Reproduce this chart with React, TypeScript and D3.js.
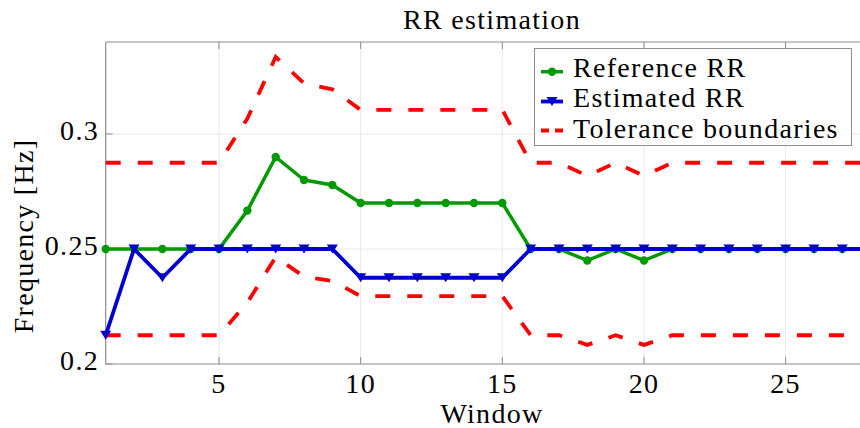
import React from "react";
import * as d3 from "d3";

const windows = [1,2,3,4,5,6,7,8,9,10,11,12,13,14,15,16,17,18,19,20,21,22,23,24,25,26,27,28];
const referenceRR = [0.25,0.25,0.25,0.25,0.25,0.2667,0.29,0.28,0.2778,0.27,0.27,0.27,0.27,0.27,0.27,0.25,0.25,0.245,0.25,0.245,0.25,0.25,0.25,0.25,0.25,0.25,0.25,0.25];
const estimatedRR = [0.2125,0.25,0.2375,0.25,0.25,0.25,0.25,0.25,0.25,0.2375,0.2375,0.2375,0.2375,0.2375,0.2375,0.25,0.25,0.25,0.25,0.25,0.25,0.25,0.25,0.25,0.25,0.25,0.25,0.25];
const upperTol = [0.2875,0.2875,0.2875,0.2875,0.2875,0.3067,0.3335,0.322,0.3194,0.3105,0.3105,0.3105,0.3105,0.3105,0.3105,0.2875,0.2875,0.2818,0.2875,0.2818,0.2875,0.2875,0.2875,0.2875,0.2875,0.2875,0.2875,0.2875];
const lowerTol = [0.2125,0.2125,0.2125,0.2125,0.2125,0.2267,0.2465,0.238,0.2361,0.2295,0.2295,0.2295,0.2295,0.2295,0.2295,0.2125,0.2125,0.2083,0.2125,0.2083,0.2125,0.2125,0.2125,0.2125,0.2125,0.2125,0.2125,0.2125];
const xTicks = [5, 10, 15, 20, 25];
const yTicks = [0.2, 0.25, 0.3];
const yTickLabels = ["0.2", "0.25", "0.3"];
const legendLabels = ["Reference RR", "Estimated RR", "Tolerance boundaries"];

const W = 860, H = 428;
const FONT = "'Liberation Serif', 'Times New Roman', serif";
const GREEN = "#009a00";
const BLUE = "#0000cc";
const RED = "#ff0000";
const AXIS = "#8c8c8c";
const GRID = "#e8e8e8";

export default function App() {
  const left = 105.7, top = 42, bottom = 364;
  const x = d3.scaleLinear().domain([1, 28]).range([left, left + 27 * 28.33]);
  const y = d3.scaleLinear().domain([0.2, 0.34]).range([bottom, top]);
  const right = x(28);

  const line = (vals: number[]) =>
    d3.line<number>().x((_, i) => x(windows[i])).y((v) => y(v))(vals) || "";

  const tri = (cx: number, cy: number) =>
    `M${cx - 5.5},${cy - 4.5}L${cx + 5.5},${cy - 4.5}L${cx},${cy + 4.5}Z`;

  const ls = 1.3;

  return (
    <svg width={W} height={H} style={{ position: "absolute", left: 0, top: 0, background: "#fff" }} fontFamily={FONT}>
      <rect x={0} y={0} width={W} height={H} fill="#fff" />
      {/* grid */}
      {xTicks.map((t) => (
        <line key={"gx" + t} x1={x(t)} x2={x(t)} y1={top} y2={bottom} stroke={GRID} strokeWidth={1} />
      ))}
      {yTicks.slice(1).map((t) => (
        <line key={"gy" + t} x1={left} x2={right} y1={y(t)} y2={y(t)} stroke={GRID} strokeWidth={1} />
      ))}
      {/* axes box */}
      <line x1={left} x2={right} y1={top} y2={top} stroke={AXIS} strokeWidth={1} />
      <line x1={left} x2={right} y1={bottom} y2={bottom} stroke={AXIS} strokeWidth={1.2} />
      <line x1={left} x2={left} y1={top} y2={bottom} stroke={AXIS} strokeWidth={1.2} />
      {xTicks.map((t) => (
        <g key={"tx" + t}>
          <line x1={x(t)} x2={x(t)} y1={bottom} y2={bottom - 7} stroke={AXIS} strokeWidth={1} />
          <line x1={x(t)} x2={x(t)} y1={top} y2={top + 7} stroke={AXIS} strokeWidth={1} />
          <text x={x(t)} y={393} fontSize={28} textAnchor="middle" letterSpacing={ls} fill="#000">{t}</text>
        </g>
      ))}
      {yTicks.map((t, i) => (
        <g key={"ty" + t}>
          <line x1={left} x2={left + 7} y1={y(t)} y2={y(t)} stroke={AXIS} strokeWidth={1} />
          <text x={99} y={y(t) + 6} fontSize={28} textAnchor="end" letterSpacing={ls} fill="#000">{yTickLabels[i]}</text>
        </g>
      ))}
      {/* series */}
      <path d={line(upperTol)} fill="none" stroke={RED} strokeWidth={3.8} strokeDasharray="15,17" />
      <path d={line(lowerTol)} fill="none" stroke={RED} strokeWidth={3.8} strokeDasharray="15,17" />
      <path d={line(referenceRR)} fill="none" stroke={GREEN} strokeWidth={3.5} strokeLinejoin="round" />
      {referenceRR.map((v, i) => (
        <circle key={"c" + i} cx={x(windows[i])} cy={y(v)} r={4.2} fill={GREEN} />
      ))}
      <path d={line(estimatedRR)} fill="none" stroke={BLUE} strokeWidth={3.8} strokeLinejoin="round" />
      {estimatedRR.map((v, i) => (
        <path key={"t" + i} d={tri(x(windows[i]), y(v))} fill={BLUE} />
      ))}
      {/* title & labels */}
      <text x={492} y={29} fontSize={28} textAnchor="middle" letterSpacing={ls} fill="#000">RR estimation</text>
      <text x={492} y={423} fontSize={28} textAnchor="middle" letterSpacing={ls} fill="#000">Window</text>
      <text transform={`translate(33,236) rotate(-90)`} fontSize={28} textAnchor="middle" letterSpacing={ls} fill="#000">Frequency [Hz]</text>
      {/* legend */}
      <rect x={534.5} y={48.5} width={317} height={97} fill="#fff" stroke={AXIS} strokeWidth={1} />
      <line x1={541} x2={563} y1={71.7} y2={71.7} stroke={GREEN} strokeWidth={3.5} />
      <circle cx={552} cy={71.7} r={4.2} fill={GREEN} />
      <line x1={541} x2={563} y1={101.5} y2={101.5} stroke={BLUE} strokeWidth={3.8} />
      <path d={tri(552, 101.5)} fill={BLUE} />
      <line x1={541} x2={563} y1={130.5} y2={130.5} stroke={RED} strokeWidth={3.8} strokeDasharray="8,6" />
      {legendLabels.map((l, i) => (
        <text key={l} x={573} y={77 + i * 30.3} fontSize={28} letterSpacing={ls} fill="#000">{l}</text>
      ))}
    </svg>
  );
}
